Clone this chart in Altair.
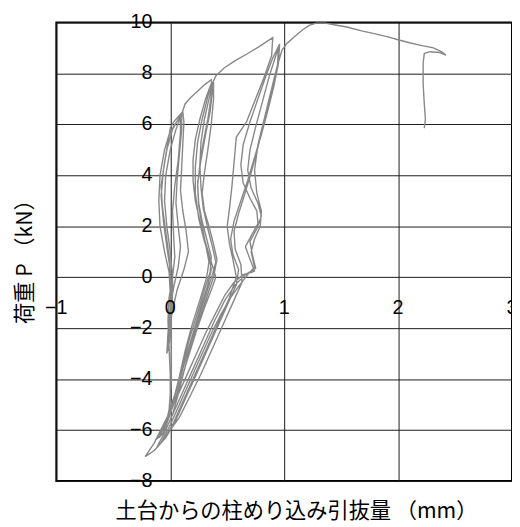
import altair as alt
import pandas as pd

# Hysteresis record: column pull-out (mm) vs load P (kN), traced cycle by cycle
cycle_1 = [(0.00, 0.0), (-0.01, 0.8), (-0.04, 1.8), (-0.07, 2.8), (-0.08, 3.6), (-0.05, 4.5), (-0.02, 5.3),
           (0.00, 5.85), (0.03, 6.1), (0.07, 6.3), (0.11, 6.5), (0.12, 6.1), (0.11, 5.2), (0.10, 4.3),
           (0.09, 3.4), (0.11, 2.6), (0.14, 1.8), (0.16, 1.0), (0.12, 0.3), (0.06, -0.5), (0.02, -1.3),
           (-0.01, -2.1), (-0.02, -2.9), (0.00, -2.3), (0.01, -1.4), (0.01, -0.5), (0.00, 0.3)]
cycle_2 = [(-0.03, 1.2), (-0.06, 2.2), (-0.08, 3.2), (-0.06, 4.2), (-0.03, 5.0), (0.02, 5.8), (0.07, 6.2),
           (0.10, 6.4), (0.10, 5.8), (0.08, 4.8), (0.06, 3.8), (0.05, 2.9), (0.07, 2.0), (0.09, 1.2),
           (0.07, 0.4), (0.03, -0.4), (0.00, -1.2), (-0.02, -2.2), (-0.03, -3.0), (-0.01, -2.4),
           (0.00, -1.5), (0.00, -0.6), (-0.01, 0.2)]
cycle_3 = [(-0.05, 1.0), (-0.09, 2.0), (-0.10, 3.0), (-0.09, 4.0), (-0.05, 5.0), (-0.01, 5.6), (0.04, 6.0),
           (0.09, 6.3), (0.09, 5.7), (0.07, 4.6), (0.04, 3.6), (0.02, 2.6), (0.03, 1.6), (0.04, 0.8),
           (0.02, 0.0), (-0.01, -0.8), (-0.02, -1.7), (-0.01, -2.8), (0.00, -3.8), (0.00, -4.8),
           (-0.02, -5.6), (-0.05, -6.0), (-0.01, -5.2), (0.01, -4.0), (0.01, -2.8), (0.01, -1.6),
           (0.02, -0.6), (0.02, 0.0)]
cycle_4 = [(0.00, 1.0), (-0.03, 2.0), (-0.05, 3.0), (-0.04, 4.0), (0.00, 5.0), (0.05, 5.8), (0.10, 6.4),
           (0.13, 6.8), (0.18, 7.05), (0.24, 7.3), (0.30, 7.55), (0.36, 7.75), (0.37, 7.3), (0.35, 6.5),
           (0.31, 5.6), (0.27, 4.6), (0.24, 3.7), (0.25, 2.9), (0.28, 2.2), (0.32, 1.5), (0.36, 0.8),
           (0.35, 0.2), (0.30, -0.5), (0.24, -1.4), (0.17, -2.4), (0.11, -3.4), (0.06, -4.3), (0.02, -5.0),
           (-0.02, -5.6), (-0.06, -6.0), (-0.02, -5.4), (0.04, -4.6), (0.10, -3.7), (0.16, -2.8),
           (0.22, -1.9), (0.28, -1.0), (0.33, -0.3), (0.36, 0.3)]
cycle_5 = [(0.34, 0.9), (0.30, 1.5), (0.26, 2.2), (0.22, 3.0), (0.20, 3.8), (0.20, 4.6), (0.22, 5.4),
           (0.26, 6.2), (0.31, 7.0), (0.36, 7.6), (0.36, 7.1), (0.33, 6.2), (0.29, 5.3), (0.26, 4.4),
           (0.24, 3.6), (0.25, 2.8), (0.28, 2.0), (0.31, 1.3), (0.34, 0.6), (0.32, 0.0), (0.26, -0.9),
           (0.19, -1.9), (0.13, -2.9), (0.08, -3.9), (0.03, -4.8), (-0.01, -5.5), (-0.06, -6.1),
           (-0.13, -6.4), (-0.06, -5.9), (0.01, -5.1), (0.07, -4.2), (0.13, -3.3), (0.19, -2.4),
           (0.26, -1.4), (0.32, -0.6), (0.37, 0.1), (0.40, 0.6)]
cycle_6 = [(0.37, 1.2), (0.33, 1.9), (0.29, 2.7), (0.27, 3.5), (0.26, 4.4), (0.27, 5.3), (0.30, 6.2),
           (0.34, 7.0), (0.38, 7.65), (0.38, 7.0), (0.36, 6.0), (0.33, 5.0), (0.30, 4.1), (0.28, 3.3),
           (0.30, 2.6), (0.34, 2.0), (0.38, 1.3), (0.41, 0.7), (0.38, 0.0), (0.32, -0.8), (0.25, -1.7),
           (0.18, -2.7), (0.12, -3.7), (0.07, -4.6), (0.02, -5.4), (-0.04, -6.0), (-0.10, -6.3),
           (-0.04, -5.8), (0.03, -5.0), (0.09, -4.1), (0.16, -3.1), (0.23, -2.1), (0.30, -1.2),
           (0.36, -0.5), (0.40, 0.0)]
cycle_7 = [(0.36, 0.6), (0.30, 1.4), (0.25, 2.3), (0.22, 3.3), (0.22, 4.3), (0.24, 5.3), (0.28, 6.2),
           (0.33, 7.1), (0.37, 7.6), (0.40, 7.9), (0.47, 8.2), (0.57, 8.5), (0.67, 8.75), (0.78, 9.05),
           (0.90, 9.4), (0.89, 8.7), (0.82, 7.8), (0.74, 6.9), (0.67, 6.1), (0.58, 5.5), (0.56, 4.5),
           (0.54, 3.5), (0.52, 2.7), (0.50, 2.0), (0.52, 1.3), (0.55, 0.7), (0.58, 0.0), (0.52, -0.8),
           (0.44, -1.6), (0.35, -2.5), (0.26, -3.4), (0.17, -4.3), (0.09, -5.1), (0.02, -5.8),
           (-0.06, -6.4), (-0.14, -6.8), (-0.22, -7.04), (-0.14, -6.5), (-0.05, -5.7), (0.04, -4.9),
           (0.13, -4.0), (0.22, -3.1), (0.31, -2.2), (0.40, -1.4), (0.48, -0.7), (0.56, -0.2),
           (0.64, 0.1), (0.72, 0.2), (0.74, 0.25)]
cycle_8 = [(0.70, 0.7), (0.66, 1.2), (0.72, 1.7), (0.77, 2.1), (0.76, 2.6), (0.70, 3.1), (0.64, 3.7),
           (0.62, 4.4), (0.64, 5.2), (0.70, 6.1), (0.77, 7.0), (0.84, 7.9), (0.90, 8.6), (0.96, 9.15),
           (0.95, 8.4), (0.91, 7.5), (0.86, 6.6), (0.80, 5.6), (0.74, 4.7), (0.68, 3.8), (0.62, 3.0),
           (0.56, 2.2), (0.53, 1.5), (0.55, 0.9), (0.60, 0.3), (0.58, -0.3), (0.50, -1.1), (0.41, -2.0),
           (0.31, -3.0), (0.21, -4.0), (0.12, -4.9), (0.04, -5.7), (-0.04, -6.3), (-0.12, -6.7),
           (-0.05, -6.1), (0.03, -5.3), (0.12, -4.4), (0.21, -3.5), (0.30, -2.6), (0.39, -1.7),
           (0.48, -0.9), (0.57, -0.3), (0.66, 0.1), (0.75, 0.35)]
cycle_9 = [(0.72, 0.9), (0.70, 1.4), (0.76, 1.9), (0.80, 2.4), (0.77, 2.9), (0.71, 3.5), (0.68, 4.2),
           (0.70, 5.0), (0.75, 5.9), (0.81, 6.9), (0.87, 7.9), (0.92, 8.6), (0.95, 9.0), (0.94, 8.2),
           (0.89, 7.2), (0.83, 6.2), (0.77, 5.1), (0.71, 4.1), (0.65, 3.2), (0.60, 2.5), (0.56, 1.8),
           (0.57, 1.1), (0.62, 0.5), (0.63, -0.2), (0.56, -0.9), (0.47, -1.8), (0.37, -2.8),
           (0.27, -3.8), (0.17, -4.7), (0.08, -5.5), (0.00, -6.0), (-0.08, -6.5), (0.00, -5.8),
           (0.08, -5.0), (0.17, -4.1), (0.26, -3.2), (0.35, -2.3), (0.44, -1.5), (0.53, -0.8),
           (0.61, -0.3), (0.68, 0.1), (0.74, 0.4)]
final_load = [(0.71, 1.0), (0.74, 1.5), (0.79, 2.0), (0.80, 2.6), (0.76, 3.3), (0.74, 4.2), (0.77, 5.2),
              (0.83, 6.3), (0.89, 7.4), (0.94, 8.3), (0.98, 8.9), (1.02, 9.15), (1.08, 9.4), (1.16, 9.7),
              (1.22, 9.88), (1.28, 9.97), (1.36, 9.97), (1.45, 9.9), (1.55, 9.82), (1.68, 9.67),
              (1.80, 9.55), (1.92, 9.42), (2.00, 9.32), (2.10, 9.2), (2.20, 9.1), (2.31, 9.0),
              (2.38, 8.85), (2.42, 8.72), (2.36, 8.82), (2.28, 8.85), (2.23, 8.78), (2.22, 8.4),
              (2.22, 7.6), (2.23, 6.8), (2.24, 6.2), (2.23, 5.85)]

cycles = [cycle_1, cycle_2, cycle_3, cycle_4, cycle_5, cycle_6, cycle_7, cycle_8, cycle_9, final_load]

x_ticks = [-1, 0, 1, 2, 3]
x_tick_text = ["\u22121", "0", "1", "2", "3"]
y_ticks = [-8, -6, -4, -2, 0, 2, 4, 6, 8, 10]
y_tick_text = ["\u22128", "\u22126", "\u22124", "\u22122", "0", "2", "4", "6", "8", "10"]

x_title = "土台からの柱めり込み引抜量 （mm）"
y_title = "荷重 P （kN）"

rows = []
for pts in cycles:
    for (xv, yv) in pts:
        rows.append({"i": len(rows), "x": xv, "p": yv})
df = pd.DataFrame(rows)

xs = alt.Scale(domain=[-1, 3], nice=False, zero=False)
ys = alt.Scale(domain=[-8, 10], nice=False, zero=False)

x_axis = alt.Axis(
    values=x_ticks, labels=False, ticks=False, domain=False, grid=True,
    gridColor="#1a1a1a", gridWidth=1, gridOpacity=1,
    title=x_title, titleFont="Noto Sans CJK JP", titleFontSize=21.5, titleFontWeight="normal",
    titleColor="#000000", titleX=243, titleY=31, titleAlign="center", titleBaseline="middle")
y_axis = alt.Axis(
    values=y_ticks, labels=False, ticks=False, domain=False, grid=True,
    gridColor="#1a1a1a", gridWidth=1, gridOpacity=1,
    title=y_title, titleFont="Noto Sans CJK JP", titleFontSize=21.5, titleFontWeight="normal",
    titleColor="#000000", titleX=-31, titleY=237, titleAngle=270, titleAlign="center",
    titleBaseline="middle")

line = alt.Chart(df).mark_line(color="#878787", strokeWidth=1.4).encode(
    x=alt.X("x:Q", scale=xs, axis=x_axis, title=x_title),
    y=alt.Y("p:Q", scale=ys, axis=y_axis, title=y_title),
    order=alt.Order("i:Q"),
)

xlab_df = pd.DataFrame({"v": x_ticks, "t": x_tick_text})
ylab_df = pd.DataFrame({"v": y_ticks, "t": y_tick_text})

xlabels = alt.Chart(xlab_df).mark_text(
    font="Liberation Sans", fontSize=20, color="#000000", align="center", baseline="middle", dy=31
).encode(
    x=alt.X("v:Q", scale=xs, axis=x_axis, title=x_title),
    y=alt.YDatum(0, scale=ys, axis=y_axis, title=y_title),
    text="t:N",
)

ylabels = alt.Chart(ylab_df).mark_text(
    font="Liberation Sans", fontSize=20, color="#000000", align="right", baseline="middle", dx=-18
).encode(
    x=alt.XDatum(0, scale=xs, axis=x_axis, title=x_title),
    y=alt.Y("v:Q", scale=ys, axis=y_axis, title=y_title),
    text="t:N",
)

chart = alt.layer(line, xlabels, ylabels).properties(
    width=462, height=465,
    autosize=alt.AutoSizeParams(type="none"),
    padding={"left": 49, "top": 11, "right": 0, "bottom": 43},
).configure_view(stroke="#000000", strokeWidth=2)

chart.save("out.html", embed_options={"renderer": "svg", "actions": False})
